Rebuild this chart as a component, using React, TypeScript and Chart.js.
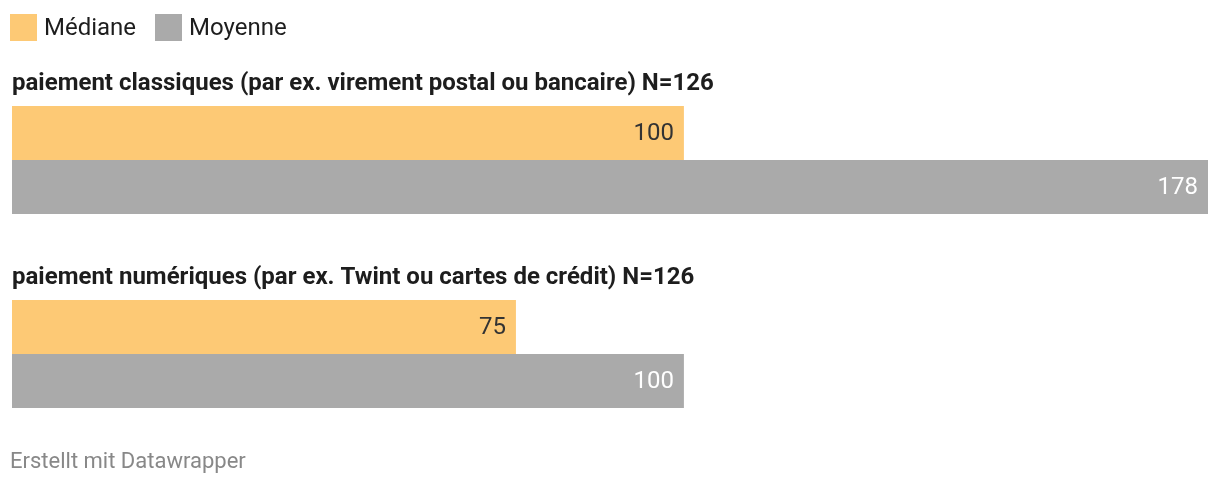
import React, { useEffect, useRef } from "react";
import { Chart, registerables } from "chart.js";

Chart.register(...registerables);

const categories = [
  "paiement classiques (par ex. virement postal ou bancaire) N=126",
  "paiement numériques (par ex. Twint ou cartes de crédit) N=126",
];
const seriesNames = ["Médiane", "Moyenne"];
const medianValues = [100, 75];
const meanValues = [178, 100];
const colors = ["#FDC975", "#AAAAAA"];
const labelColors = ["#333333", "#FFFFFF"];
const footerText = "Erstellt mit Datawrapper";

const FONT = "Roboto, 'Noto Sans', sans-serif";

const overlayPlugin = {
  id: "overlay",
  afterDatasetsDraw(chart: any) {
    const ctx = chart.ctx;
    ctx.save();
    const meta0 = chart.getDatasetMeta(0);
    meta0.data.forEach((bar: any, i: number) => {
      const top = bar.y - bar.height / 2;
      ctx.font = `bold 24px ${FONT}`;
      ctx.fillStyle = "#1d1d1d";
      ctx.textAlign = "left";
      ctx.textBaseline = "alphabetic";
      ctx.fillText(categories[i], chart.chartArea.left, top - 16);
    });
    chart.data.datasets.forEach((ds: any, di: number) => {
      const meta = chart.getDatasetMeta(di);
      meta.data.forEach((bar: any, i: number) => {
        ctx.font = `24px ${FONT}`;
        ctx.fillStyle = labelColors[di];
        ctx.textAlign = "right";
        ctx.textBaseline = "middle";
        ctx.fillText(String(ds.data[i]), bar.x - 10, bar.y + 1);
      });
    });
    ctx.restore();
  },
};

export default function App() {
  const ref = useRef<HTMLCanvasElement>(null);
  useEffect(() => {
    document.body.style.margin = "0";
    const chart = new Chart(ref.current as HTMLCanvasElement, {
      type: "bar",
      data: {
        labels: categories,
        datasets: [
          {
            label: seriesNames[0],
            data: medianValues,
            backgroundColor: colors[0],
            barPercentage: 1,
            categoryPercentage: 108 / 194,
          },
          {
            label: seriesNames[1],
            data: meanValues,
            backgroundColor: colors[1],
            barPercentage: 1,
            categoryPercentage: 108 / 194,
          },
        ],
      },
      options: {
        indexAxis: "y",
        animation: false,
        responsive: false,
        maintainAspectRatio: false,
        layout: { padding: { left: 12, right: 12, top: 63, bottom: 33 } },
        plugins: {
          legend: { display: false },
          tooltip: { enabled: false },
        },
        scales: {
          x: { display: false, min: 0, max: 178 },
          y: { display: false },
        },
      },
      plugins: [overlayPlugin],
    });
    return () => chart.destroy();
  }, []);

  return (
    <div
      style={{
        position: "relative",
        width: 1220,
        height: 484,
        background: "#fff",
        fontFamily: FONT,
      }}
    >
      <canvas
        ref={ref}
        width={1220}
        height={484}
        style={{ position: "absolute", left: 0, top: 0, width: 1220, height: 484 }}
      />
      <div
        style={{
          position: "absolute",
          left: 10,
          top: 14,
          display: "flex",
          alignItems: "center",
          fontSize: 24,
          color: "#1d1d1d",
          lineHeight: "27px",
        }}
      >
        {seriesNames.map((n, i) => (
          <div key={n} style={{ display: "flex", alignItems: "center", marginRight: 19 }}>
            <span
              style={{
                display: "inline-block",
                width: 27,
                height: 27,
                background: colors[i],
                marginRight: 7,
              }}
            />
            <span>{n}</span>
          </div>
        ))}
      </div>
      <div
        style={{
          position: "absolute",
          left: 10,
          top: 448,
          fontSize: 22,
          color: "#888888",
          lineHeight: "26px",
        }}
      >
        {footerText}
      </div>
    </div>
  );
}
